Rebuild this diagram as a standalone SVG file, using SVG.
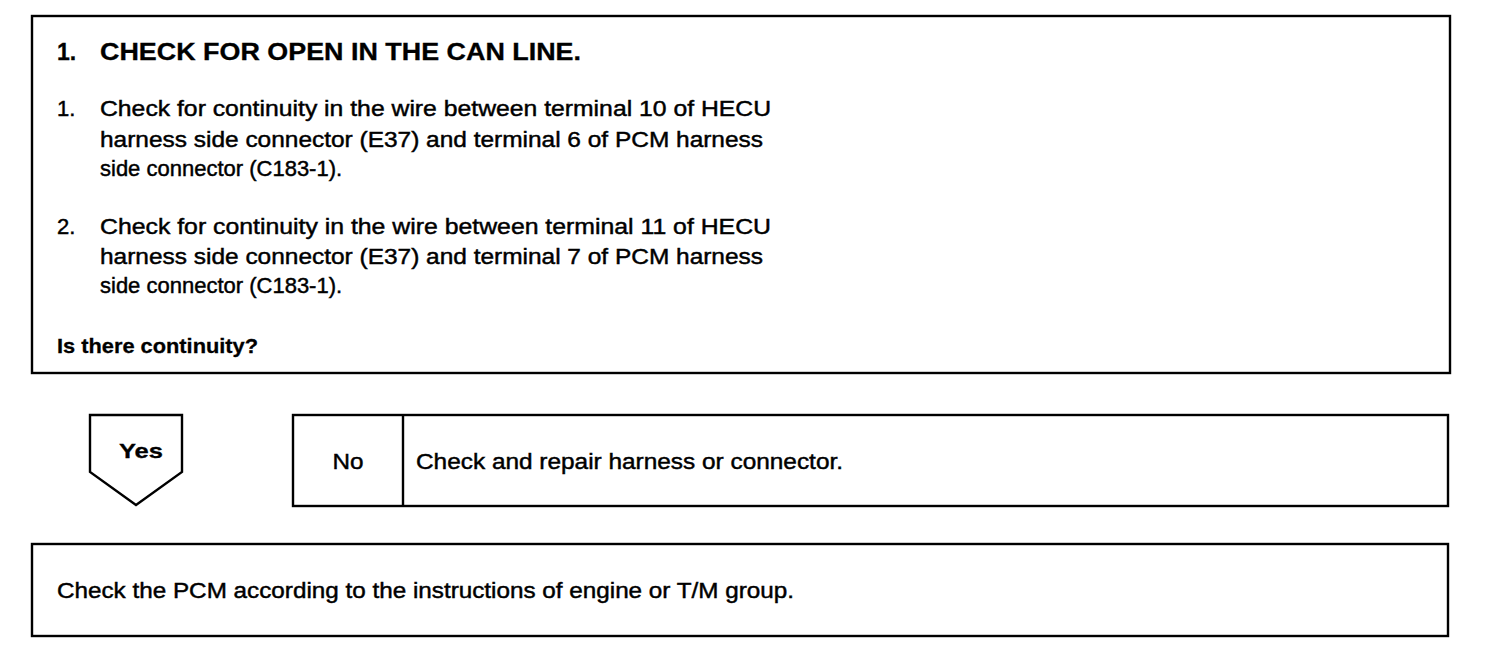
<svg xmlns="http://www.w3.org/2000/svg" width="1504" height="652" viewBox="0 0 1504 652">
<style>
.box{fill:#fff;stroke:#000;stroke-width:2.4}
.t{font-family:"Liberation Sans",Arial,sans-serif;font-size:22px;fill:#000;stroke:#000;stroke-width:0.45}
.b{font-family:"Liberation Sans",Arial,sans-serif;font-size:21px;font-weight:bold;fill:#000;stroke:#000;stroke-width:0.3}
.h{font-family:"Liberation Sans",Arial,sans-serif;font-size:23px;font-weight:bold;fill:#000;stroke:#000;stroke-width:0.3}
</style>
<rect width="1504" height="652" fill="#fff"/>
<g id="connectors"></g>
<g id="step1">
<rect class="box" x="32" y="16" width="1418" height="357"/>
<text class="h" x="57" y="60">1.</text>
<text class="h" x="100" y="60" textLength="481" lengthAdjust="spacingAndGlyphs">CHECK FOR OPEN IN THE CAN LINE.</text>
<text class="t" x="57" y="116">1.</text>
<text class="t" x="100" y="116" textLength="671" lengthAdjust="spacingAndGlyphs">Check for continuity in the wire between terminal 10 of HECU</text>
<text class="t" x="100" y="147" textLength="663" lengthAdjust="spacingAndGlyphs">harness side connector (E37) and terminal 6 of PCM harness</text>
<text class="t" x="100" y="176">side connector (C183-1).</text>
<text class="t" x="57" y="234">2.</text>
<text class="t" x="100" y="234" textLength="671" lengthAdjust="spacingAndGlyphs">Check for continuity in the wire between terminal 11 of HECU</text>
<text class="t" x="100" y="264" textLength="663" lengthAdjust="spacingAndGlyphs">harness side connector (E37) and terminal 7 of PCM harness</text>
<text class="t" x="100" y="293">side connector (C183-1).</text>
<text class="b" x="57" y="353" textLength="201" lengthAdjust="spacingAndGlyphs">Is there continuity?</text>
</g>
<g id="yes">
<path class="box" d="M90,415 L182,415 L182,472 L136,505 L90,472 Z"/>
<text class="b" x="141" y="458" text-anchor="middle" textLength="44" lengthAdjust="spacingAndGlyphs">Yes</text>
</g>
<g id="no">
<rect class="box" x="293" y="415" width="1155" height="91"/>
<line x1="403" y1="415" x2="403" y2="506" stroke="#000" stroke-width="2.4"/>
<text class="t" x="348" y="469" text-anchor="middle" textLength="31" lengthAdjust="spacingAndGlyphs">No</text>
<text class="t" x="416" y="469" textLength="427" lengthAdjust="spacingAndGlyphs">Check and repair harness or connector.</text>
</g>
<g id="step2">
<rect class="box" x="32" y="544" width="1416" height="92"/>
<text class="t" x="57" y="598" textLength="737" lengthAdjust="spacingAndGlyphs">Check the PCM according to the instructions of engine or T/M group.</text>
</g>
</svg>
